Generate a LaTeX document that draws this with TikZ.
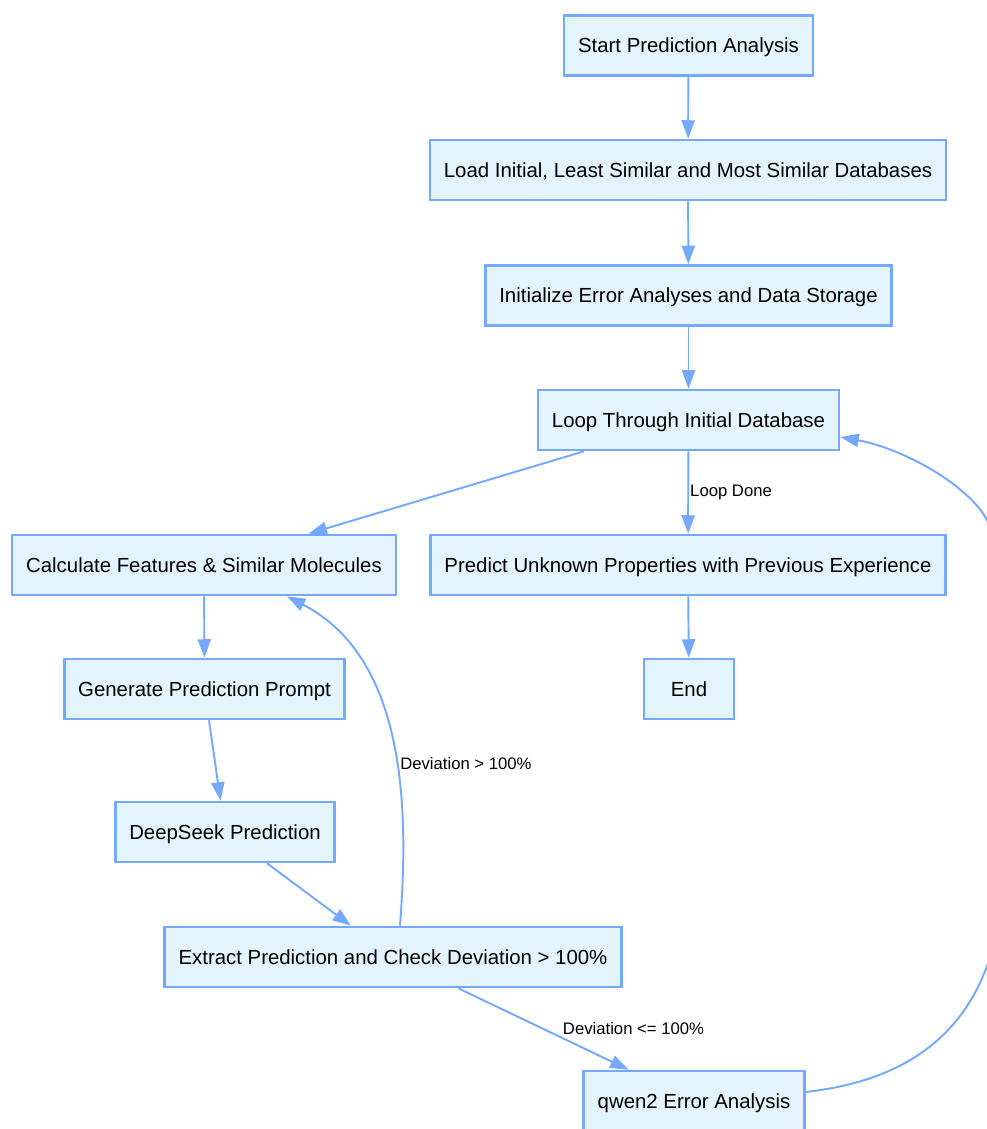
\documentclass[tikz,border=0pt]{standalone}
\usepackage{fontspec}
\setmainfont{Liberation Sans}
\usepackage{tikz}
\usetikzlibrary{arrows.meta,positioning,calc}
\definecolor{lineblue}{RGB}{116,169,255}
\definecolor{boxfill}{RGB}{227,244,253}
\begin{document}
\begin{tikzpicture}[x=0.02cm,y=-0.02cm,
  box/.style={draw=lineblue,fill=boxfill,line width=1.5pt,minimum height=1.2cm,minimum width=1.8cm,inner xsep=0.28cm,
    text height=0.85em,text depth=0pt,font=\fontsize{11.6}{14}\selectfont},
  flow/.style={draw=lineblue,line width=1.1pt,-{Triangle[length=10.5pt,width=7.5pt]}},
  lbl/.style={inner sep=0pt,font=\fontsize{9.5}{11}\selectfont}]
\useasboundingbox (0,0) rectangle (987,1129);
\node[box] (start) at (688.5,45.5) {Start Prediction Analysis};
\node[box] (load) at (688,170) {Load Initial, Least Similar and Most Similar Databases};
\node[box] (init) at (688.5,295.5) {Initialize Error Analyses and Data Storage};
\node[box] (loop) at (688.5,420) {Loop Through Initial Database};
\node[box] (calc) at (204,565) {Calculate Features \& Similar Molecules};
\node[box] (predict) at (688,565) {Predict Unknown Properties with Previous Experience};
\node[box] (end) at (689,689) {End};
\node[box] (prompt) at (204.5,689) {Generate Prediction Prompt};
\node[box] (deepseek) at (225,832) {DeepSeek Prediction};
\node[box] (extract) at (393,957) {Extract Prediction and Check Deviation > 100\%};
\node[box] (qwen) at (694,1101) {qwen2 Error Analysis};
\draw[flow] (start) -- (load);
\draw[flow] (load) -- (init);
\draw[flow] (init) -- (loop);
\draw[flow] (loop) -- (calc);
\draw[flow] (loop) -- node[lbl,right=0.02cm] {Loop Done} (predict);
\draw[flow] (predict) -- (end);
\draw[flow] (calc) -- (prompt);
\draw[flow] (prompt) -- (deepseek);
\draw[flow] (deepseek) -- (extract);
% back edges
\draw[flow] ([xshift=0.14cm]extract.north) .. controls (408,820) and (410,660) .. node[lbl,pos=0.45,anchor=west,xshift=0.06cm] {Deviation > 100\%} ([xshift=1.66cm]calc.south);
\draw[flow] (extract) -- node[lbl,anchor=west,xshift=0.37cm] {Deviation <= 100\%} (qwen);
\draw[flow] ([yshift=0.18cm]qwen.east) .. controls (930,1078) and (1005,1010) .. (1005,850)
  .. controls (1005,640) and (998,550) .. (987,520)
  .. controls (969,486) and (905,449) .. ([yshift=-0.34cm]loop.east);
\end{tikzpicture}
\end{document}
